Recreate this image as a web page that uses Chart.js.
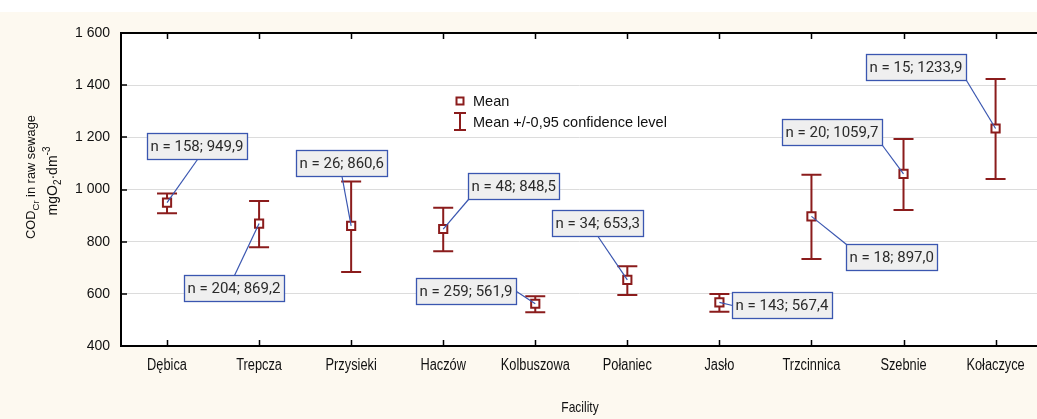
<!DOCTYPE html>
<html>
<head>
<meta charset="utf-8">
<script src="https://cdn.jsdelivr.net/npm/chart.js@4/dist/chart.umd.min.js"></script>
<style>
  html, body { margin: 0; padding: 0; background: #fff; }
  #wrap { width: 1037px; height: 419px; }
</style>
</head>
<body>
<div id="wrap"><canvas id="chart" width="1037" height="419"></canvas></div>
<script>
// --- data ---
const facilities = ['Dębica', 'Trepcza', 'Przysieki', 'Haczów', 'Kolbuszowa', 'Połaniec', 'Jasło', 'Trzcinnica', 'Szebnie', 'Kołaczyce'];
const means = [949.9, 869.2, 860.6, 848.5, 561.9, 653.3, 567.4, 897.0, 1059.7, 1233.9];
const counts = [158, 204, 26, 48, 259, 34, 143, 18, 20, 15];
const ciLow = [909, 779, 684, 763, 529, 596, 531, 734, 921, 1040];
const ciHigh = [985, 956, 1031, 930, 591, 706, 599, 1057, 1194, 1424];
const yTicks = [400, 600, 800, 1000, 1200, 1400, 1600];

// label box placement (px from the mean marker) + where the leader line leaves the box
const labelPlace = [
  { dx: -20, dy: -70, at: 'b' },
  { dx: -75, dy: 51, at: 't' },
  { dx: -55, dy: -76, at: 'b' },
  { dx: 25, dy: -56, at: 'bl' },
  { dx: -119, dy: -26, at: 'r' },
  { dx: -75, dy: -70, at: 'b' },
  { dx: 13, dy: -10, at: 'l' },
  { dx: 35, dy: 28, at: 'tl' },
  { dx: -122, dy: -55, at: 'br' },
  { dx: -130, dy: -74, at: 'br' }
];

const RED = '#8b1c1c';
const BLUE = '#3a56b0';
const CREAM = '#fdf9f0';
const fmtNum = v => v.toFixed(1).replace('.', ',');
const fmtTick = v => String(v).replace(/\B(?=(\d{3})+(?!\d))/g, ' ');

// narrow text: regular sans squeezed horizontally
function narrowText(ctx, txt, cx, cy, size, squeeze) {
  ctx.save();
  ctx.font = size + 'px "Liberation Sans", Arial, sans-serif';
  ctx.textAlign = 'center';
  ctx.textBaseline = 'middle';
  ctx.translate(cx, cy);
  ctx.scale(squeeze, 1);
  ctx.fillText(txt, 0, 0);
  ctx.restore();
}

const statsPlugin = {
  id: 'stats',
  beforeDraw(chart) {
    const { ctx, chartArea: a, width, height } = chart;
    ctx.save();
    ctx.fillStyle = '#fff';
    ctx.fillRect(0, 0, width, height);
    ctx.fillStyle = CREAM;
    ctx.fillRect(0, 12, width, height - 12);
    ctx.fillStyle = '#fff';
    ctx.fillRect(a.left, a.top, width - a.left, a.bottom - a.top);
    ctx.restore();
  },
  beforeDatasetsDraw(chart) {
    const { ctx, scales: { x, y } } = chart;
    ctx.save();
    ctx.strokeStyle = RED;
    ctx.lineWidth = 2;
    means.forEach((m, i) => {
      const px = x.getPixelForValue(i);
      const top = y.getPixelForValue(ciHigh[i]);
      const bot = y.getPixelForValue(ciLow[i]);
      ctx.beginPath();
      ctx.moveTo(px, top); ctx.lineTo(px, bot);
      ctx.moveTo(px - 10, top); ctx.lineTo(px + 10, top);
      ctx.moveTo(px - 10, bot); ctx.lineTo(px + 10, bot);
      ctx.stroke();
    });
    ctx.restore();
  },
  afterDatasetsDraw(chart) {
    const { ctx, scales: { x, y } } = chart;
    ctx.save();
    ctx.font = '15px Roboto';
    means.forEach((m, i) => {
      const px = x.getPixelForValue(i);
      const py = y.getPixelForValue(m);
      const txt = `n = ${counts[i]}; ${fmtNum(m)}`;
      const w = Math.round(ctx.measureText(txt).width + 7);
      const h = 26;
      const p = labelPlace[i];
      const bx = Math.round(px + p.dx) + 0.5, by = Math.round(py + p.dy) + 0.5;
      const anchors = {
        b: [bx + w / 2, by + h], t: [bx + w / 2, by], bl: [bx, by + h], br: [bx + w, by + h],
        tl: [bx, by], r: [bx + w, by + h / 2], l: [bx, by + h / 2]
      };
      const [ax, ay] = anchors[p.at];
      ctx.strokeStyle = BLUE;
      ctx.lineWidth = 1.2;
      ctx.beginPath();
      ctx.moveTo(ax, ay); ctx.lineTo(px, py);
      ctx.stroke();
      ctx.fillStyle = '#efefef';
      ctx.fillRect(bx, by, w, h);
      ctx.lineWidth = 1.3;
      ctx.strokeRect(bx, by, w, h);
      ctx.fillStyle = '#2a2a2a';
      ctx.textBaseline = 'middle';
      ctx.fillText(txt, bx + 3, by + h / 2 + 1);
    });
    ctx.restore();
  },
  afterDraw(chart) {
    const { ctx, chartArea: a, scales: { x, y }, width } = chart;
    ctx.save();
    // top frame + inside ticks
    ctx.strokeStyle = '#000';
    ctx.lineWidth = 2;
    ctx.beginPath();
    ctx.moveTo(a.left - 1, a.top); ctx.lineTo(width, a.top);
    ctx.stroke();
    ctx.lineWidth = 1.5;
    ctx.beginPath();
    facilities.forEach((f, i) => {
      const px = Math.round(x.getPixelForValue(i)) + 0.5;
      ctx.moveTo(px, a.top); ctx.lineTo(px, a.top + 6);
      ctx.moveTo(px, a.bottom); ctx.lineTo(px, a.bottom - 6);
    });
    yTicks.forEach(v => {
      const py = Math.round(y.getPixelForValue(v));
      ctx.moveTo(a.left, py); ctx.lineTo(a.left + 6, py);
    });
    ctx.stroke();

    // category labels and axis title (narrow face)
    ctx.fillStyle = '#111';
    facilities.forEach((f, i) => narrowText(ctx, f, x.getPixelForValue(i), a.bottom + 20, 16, 0.8));
    narrowText(ctx, 'Facility', 580, 408, 15, 0.8);

    // legend
    ctx.strokeStyle = RED;
    ctx.lineWidth = 2;
    ctx.strokeRect(456.5, 97.5, 7, 7);
    ctx.beginPath();
    ctx.moveTo(460, 113); ctx.lineTo(460, 130);
    ctx.moveTo(454, 113); ctx.lineTo(466, 113);
    ctx.moveTo(454, 130); ctx.lineTo(466, 130);
    ctx.stroke();
    ctx.fillStyle = '#111';
    ctx.font = '14.5px "Liberation Sans", Arial, sans-serif';
    ctx.textBaseline = 'middle';
    ctx.fillText('Mean', 473, 102);
    ctx.fillText('Mean +/-0,95 confidence level', 473, 123);

    // y-axis title with sub/superscripts
    const parts1 = [['COD', 0], ['Cr', 1], [' in raw sewage', 0]];
    const parts2 = [['mgO', 0], ['2', 1], ['·dm', 0], ['-3', 2]];
    const drawRotated = (parts, cx, cy, bigSize, smallSize) => {
      const big = bigSize + 'px "Liberation Sans", Arial, sans-serif';
      const small = smallSize + 'px "Liberation Sans", Arial, sans-serif';
      let total = 0;
      parts.forEach(([t, k]) => { ctx.font = k ? small : big; total += ctx.measureText(t).width; });
      ctx.save();
      ctx.translate(cx, cy);
      ctx.rotate(-Math.PI / 2);
      ctx.textBaseline = 'alphabetic';
      let xx = -total / 2;
      parts.forEach(([t, k]) => {
        ctx.font = k ? small : big;
        const off = k === 1 ? 4 : (k === 2 ? -7 : 0);
        ctx.fillText(t, xx, 5 + off);
        xx += ctx.measureText(t).width;
      });
      ctx.restore();
    };
    ctx.fillStyle = '#111';
    drawRotated(parts1, 30, 177, 12.8, 9.5);
    drawRotated(parts2, 52, 181, 14, 10);
    ctx.restore();
  }
};

const ctx = document.getElementById('chart').getContext('2d');
new Chart(ctx, {
  type: 'scatter',
  data: {
    datasets: [{
      label: 'Mean',
      data: means.map((m, i) => ({ x: i, y: m })),
      pointStyle: 'rect',
      pointRadius: 5.8,
      pointHoverRadius: 5.8,
      borderWidth: 2,
      borderColor: RED,
      backgroundColor: '#fff'
    }]
  },
  options: {
    responsive: false,
    animation: false,
    events: [],
    layout: { autoPadding: false, padding: { top: 33, left: 0, right: 0, bottom: 0 } },
    plugins: { legend: { display: false }, tooltip: { enabled: false } },
    scales: {
      x: {
        type: 'linear',
        min: -0.5,
        max: 9.45,
        afterBuildTicks: axis => { axis.ticks = facilities.map((f, i) => ({ value: i })); },
        afterFit: axis => { axis.height = 73; axis.paddingLeft = 0; axis.paddingRight = 0; },
        grid: { display: false, drawTicks: false },
        border: { display: true, color: '#000', width: 2 },
        ticks: { display: false },
        title: { display: false }
      },
      y: {
        min: 400,
        max: 1600,
        afterBuildTicks: axis => { axis.ticks = yTicks.map(v => ({ value: v })); },
        afterFit: axis => { axis.width = 121; axis.paddingTop = 0; axis.paddingBottom = 0; },
        grid: { color: '#dcdcdc', lineWidth: 1, drawTicks: false },
        border: { display: true, color: '#000', width: 2 },
        ticks: {
          padding: 11,
          color: '#111',
          font: { family: '"Liberation Sans", Arial', size: 14 },
          callback: v => fmtTick(v)
        }
      }
    }
  },
  plugins: [statsPlugin]
});
</script>
</body>
</html>
